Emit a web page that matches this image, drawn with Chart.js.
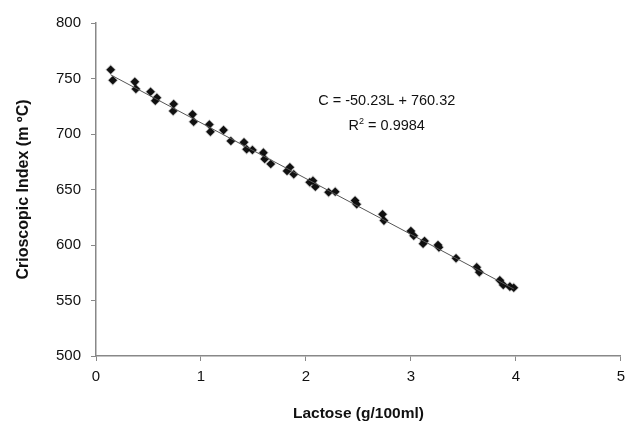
<!DOCTYPE html>
<html>
<head>
<meta charset="utf-8">
<script src="https://cdn.jsdelivr.net/npm/chart.js@4.4.1/dist/chart.umd.min.js"></script>
<style>
  html, body { margin: 0; padding: 0; background: #fff; }
</style>
</head>
<body>
<canvas id="myChart" width="632" height="423"></canvas>
<script>
const lactose = [0.14, 0.16, 0.37, 0.38, 0.52, 0.565, 0.58, 0.735, 0.74, 0.92, 0.93,
    1.08, 1.09, 1.215, 1.285, 1.41, 1.435, 1.49, 1.595, 1.607, 1.665, 1.82, 1.847, 1.884,
    2.036, 2.067, 2.09, 2.216, 2.279, 2.468, 2.484, 2.73, 2.743, 3.0, 3.027, 3.116, 3.13,
    3.258, 3.267, 3.43, 3.627, 3.652, 3.847, 3.88, 3.943, 3.98];
const crioscopic = [757.9, 748.4, 747.0, 740.5, 738.0, 730.0, 732.7, 720.7, 727.0, 717.7, 711.0,
    708.5, 702.0, 703.5, 693.7, 692.5, 686.2, 685.6, 683.2, 677.5, 673.0, 666.7, 670.0, 663.7,
    656.5, 657.9, 652.5, 647.5, 648.0, 640.0, 636.7, 627.7, 622.0, 612.6, 608.4, 601.2, 603.6,
    600.0, 597.9, 588.0, 580.0, 575.4, 568.2, 564.0, 562.5, 561.5];

// trendline as printed on the chart
const slope = -50.23;
const intercept = 760.32;
const rSquared = '0.9984';
const xTicks = [0, 1, 2, 3, 4, 5];
const yTicks = [500, 550, 600, 650, 700, 750, 800];

const points = lactose.map((l, i) => ({ x: l, y: crioscopic[i] }));
const xMin = Math.min(...lactose);
const xMax = Math.max(...lactose);
const trend = [
    { x: xMin, y: slope * xMin + intercept },
    { x: xMax, y: slope * xMax + intercept }
];

const equationLabel = {
    id: 'equationLabel',
    afterDatasetsDraw(chart) {
        const { ctx, scales } = chart;
        const cx = scales.x.getPixelForValue(2.77);
        const y1 = scales.y.getPixelForValue(729.5);
        const y2 = scales.y.getPixelForValue(707);
        ctx.save();
        ctx.fillStyle = '#111';
        ctx.textBaseline = 'middle';
        ctx.font = '14.5px "Liberation Sans", Arial, sans-serif';
        ctx.textAlign = 'center';
        ctx.fillText('C = ' + slope.toFixed(2) + 'L + ' + intercept.toFixed(2), cx, y1);

        // R² line with a raised 2
        const a = 'R', b = '2', c = ' = ' + rSquared;
        const wa = ctx.measureText(a).width;
        const wc = ctx.measureText(c).width;
        ctx.font = '9px "Liberation Sans", Arial, sans-serif';
        const wb = ctx.measureText(b).width;
        let x = cx - (wa + wb + wc) / 2;
        ctx.textAlign = 'left';
        ctx.font = '14.5px "Liberation Sans", Arial, sans-serif';
        ctx.fillText(a, x, y2);
        ctx.font = '9px "Liberation Sans", Arial, sans-serif';
        ctx.fillText(b, x + wa, y2 - 5);
        ctx.font = '14.5px "Liberation Sans", Arial, sans-serif';
        ctx.fillText(c, x + wa + wb, y2);
        ctx.restore();
    }
};

const ctx1 = document.getElementById('myChart');
const myChart = new Chart(ctx1, {
    type: 'scatter',
    data: {
        datasets: [{
            label: 'Crioscopic Index',
            data: points,
            pointStyle: 'rectRot',
            pointRadius: 4.3,
            backgroundColor: '#111',
            borderColor: 'rgba(0,0,0,0.22)',
            borderWidth: 1.5,
            order: 2
        }, {
            type: 'line',
            label: 'Linear',
            data: trend,
            borderColor: '#555',
            borderWidth: 1,
            pointRadius: 0,
            fill: false,
            order: 1
        }]
    },
    options: {
        responsive: false,
        animation: false,
        layout: {
            padding: { top: 23, right: 8, left: 0, bottom: 0 }
        },
        plugins: {
            legend: { display: false },
            tooltip: { enabled: false }
        },
        scales: {
            x: {
                type: 'linear',
                min: 0,
                max: 5,
                afterFit: s => { s.height = 67; },
                afterBuildTicks: s => { s.ticks = xTicks.map(v => ({ value: v })); },
                grid: { drawOnChartArea: false, tickLength: 5, color: '#888' },
                border: { color: '#888', width: 1.5 },
                ticks: {
                    padding: 7,
                    color: '#111',
                    font: { family: '"Liberation Sans", Arial, sans-serif', size: 15 }
                },
                title: {
                    display: true,
                    text: 'Lactose (g/100ml)',
                    color: '#111',
                    padding: { top: 4, bottom: 0 },
                    font: { family: '"Liberation Sans", Arial, sans-serif', size: 15.5, weight: 'bold' }
                }
            },
            y: {
                min: 500,
                max: 800,
                afterFit: s => { s.width = 96; },
                afterBuildTicks: s => { s.ticks = yTicks.map(v => ({ value: v })); },
                grid: { drawOnChartArea: false, tickLength: 5, color: '#888' },
                border: { color: '#888', width: 1.5 },
                ticks: {
                    padding: 10,
                    color: '#111',
                    font: { family: '"Liberation Sans", Arial, sans-serif', size: 15 }
                },
                title: {
                    display: true,
                    text: 'Crioscopic Index (m ºC)',
                    color: '#111',
                    padding: { top: 14, bottom: 0 },
                    font: { family: '"Liberation Sans", Arial, sans-serif', size: 16, weight: 'bold' }
                }
            }
        }
    },
    plugins: [equationLabel]
});
</script>
</body>
</html>
